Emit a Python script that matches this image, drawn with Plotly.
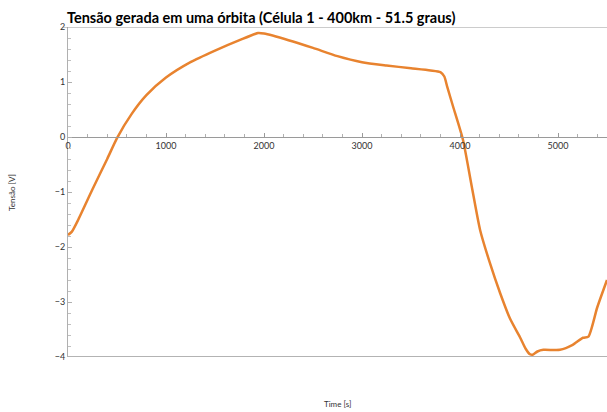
import plotly.graph_objects as go

time_s = [0, 40, 100, 250, 400, 500, 650, 800, 1000, 1250, 1500, 1750, 1940, 2000, 2250, 2500,
          2750, 3000, 3250, 3500, 3700, 3800, 3840, 3870, 3930, 4030, 4120, 4205, 4305,
          4410, 4510, 4612, 4670, 4714, 4740, 4790, 4850, 5020, 5150, 5255, 5310, 5400, 5500]
tensao_v = [-1.78, -1.72, -1.52, -0.95, -0.4, -0.02, 0.42, 0.76, 1.08, 1.36, 1.57, 1.76, 1.89, 1.88, 1.76, 1.62,
            1.47, 1.36, 1.3, 1.25, 1.21, 1.18, 1.1, 0.91, 0.55, -0.05, -0.9, -1.69, -2.29,
            -2.84, -3.3, -3.64, -3.85, -3.95, -3.96, -3.9, -3.87, -3.87, -3.78, -3.65, -3.63, -3.1, -2.6]

x_ticks = [0, 1000, 2000, 3000, 4000, 5000]
y_ticks = [-4, -3, -2, -1, 0, 1, 2]

title_text = "Tensão gerada em uma órbita (Célula 1 - 400km - 51.5 graus)"

fig = go.Figure()
fig.add_trace(go.Scatter(x=time_s, y=tensao_v, mode="lines",
                         line=dict(color="#E8832F", width=2.5, shape="spline", smoothing=0.6),
                         showlegend=False))

tick_font = dict(family="Lato, 'Open Sans', sans-serif", size=9, color="#333333")

fig.update_layout(
    width=607, height=412,
    margin=dict(l=68, r=0, t=27, b=55),
    paper_bgcolor="white", plot_bgcolor="white",
    xaxis=dict(range=[0, 5500], tickvals=x_ticks, showgrid=False, zeroline=False,
               anchor="free", position=4/6, showline=True, linecolor="#9a9a9a", linewidth=1,
               ticks="inside", ticklen=4, tickcolor="#9a9a9a",
               minor=dict(ticks="inside", dtick=200, ticklen=3, tickcolor="#b0b0b0"),
               tickfont=tick_font),
    yaxis=dict(range=[-4, 2], tickvals=y_ticks, showgrid=False, zeroline=False,
               showline=True, linecolor="#b0b0b0", linewidth=1,
               ticks="inside", ticklen=4, tickcolor="#b0b0b0",
               minor=dict(ticks="inside", dtick=0.2, ticklen=3, tickcolor="#c0c0c0"),
               tickfont=tick_font),
    shapes=[
        dict(type="line", xref="paper", yref="y", x0=0, x1=1, y0=-4, y1=-4,
             line=dict(color="#9a9a9a", width=1.5)),
        dict(type="line", xref="paper", yref="y", x0=-0.01, x1=1, y0=2, y1=2,
             line=dict(color="#9a9a9a", width=1)),
    ],
    annotations=[
        dict(text="<b>" + title_text + "</b>", xref="paper", yref="paper",
             x=(65 - 68) / 539, y=1, xanchor="left", yanchor="bottom", yshift=-1,
             showarrow=False, font=dict(family="Lato, 'Open Sans', sans-serif", size=14.5, color="black")),
        dict(text="Tensão [V]", xref="paper", yref="paper", x=(12 - 68) / 539, y=0.5,
             textangle=-90, showarrow=False, xanchor="center", yanchor="middle",
             font=dict(family="Lato, sans-serif", size=8, color="#333333")),
        dict(text="Time [s]", xref="paper", yref="paper", x=(337 - 68) / 539, y=-(404 - 357) / 330,
             showarrow=False, xanchor="center", yanchor="middle",
             font=dict(family="Lato, sans-serif", size=8, color="#333333")),
    ],
)

fig.write_html("out.html", config={"displayModeBar": False},
               post_script="document.body.style.margin='0px';")
